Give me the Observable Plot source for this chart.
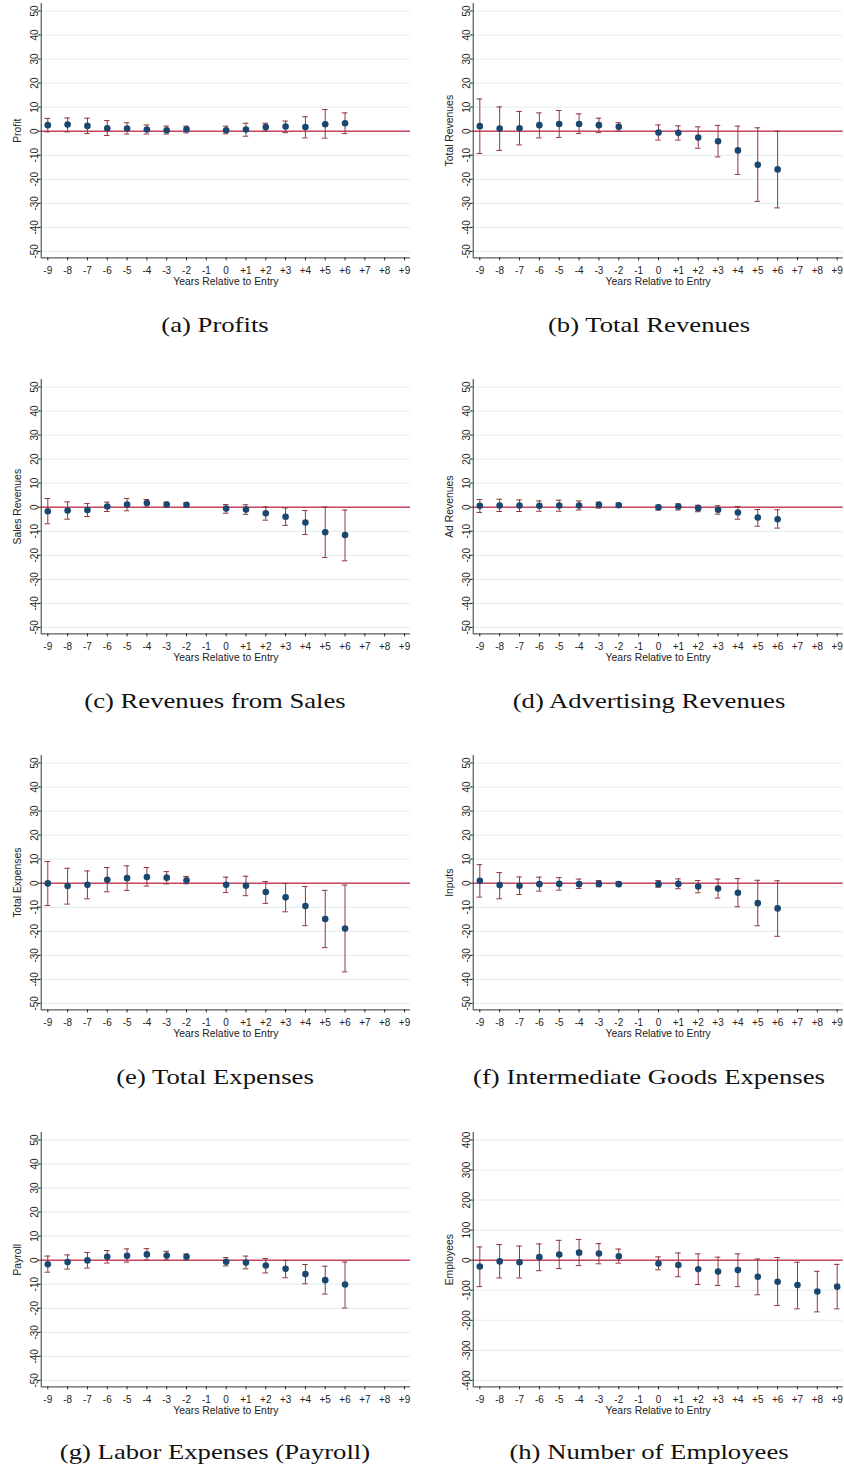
<!DOCTYPE html>
<html>
<head>
<meta charset="utf-8">
<script src="https://cdn.jsdelivr.net/npm/d3@7"></script>
<script src="https://cdn.jsdelivr.net/npm/@observablehq/plot@0.6"></script>
<style>
  html, body { margin: 0; padding: 0; background: #fff; }
  #page { position: relative; width: 844px; height: 1468px; overflow: hidden; background: #fff; }
  .panel { position: absolute; }
  .cap { position: absolute; width: 420px; text-align: center; font-family: "Liberation Serif", "Times New Roman", serif;
         font-size: 21px; line-height: 24px; color: #111; transform: scaleX(1.27); transform-origin: 50% 50%; white-space: nowrap; }
</style>
</head>
<body>
<div id="page"></div>
<script>
// ---- data ----
const years = [-9,-8,-7,-6,-5,-4,-3,-2,-1,0,1,2,3,4,5,6,7,8,9];
const yearLabels = ["-9","-8","-7","-6","-5","-4","-3","-2","-1","0","+1","+2","+3","+4","+5","+6","+7","+8","+9"];

const profitPt = [2.5,2.8,2.2,1.2,1.1,0.7,0.4,0.8,null,0.4,0.7,1.7,1.9,1.7,2.9,3.3];
const profitHi = [5.3,5.5,5.4,4.4,3.5,2.6,2.1,2.1,null,2.1,3.3,3.3,4.2,6.0,9.0,7.6];
const profitLo = [-0.3,-0.3,-1.0,-1.8,-1.2,-1.2,-1.2,-0.7,null,-1.1,-2.1,0.0,-0.6,-2.8,-2.9,-1.0];

const totRevPt = [2.1,1.1,1.2,2.5,3.0,3.0,2.5,1.8,null,-0.6,-0.7,-2.6,-4.2,-8.0,-14.0,-15.9];
const totRevHi = [13.4,10.1,8.2,7.6,8.6,7.2,5.4,3.5,null,2.6,2.2,1.8,2.4,2.1,1.4,0.0];
const totRevLo = [-9.3,-8.0,-5.7,-2.8,-2.6,-1.0,-0.6,0.0,null,-3.7,-3.7,-7.1,-10.7,-18.0,-29.2,-31.9];

const salesPt = [-1.7,-1.4,-1.2,0.3,1.1,1.7,1.1,1.0,null,-0.6,-1.0,-2.5,-4.0,-6.4,-10.4,-11.6];
const salesHi = [3.6,2.2,1.5,2.1,3.6,3.2,2.1,1.8,null,1.1,1.0,0.1,-0.3,-1.4,0.1,-1.2];
const salesLo = [-6.9,-5.0,-3.9,-1.8,-1.5,0.0,0.1,0.1,null,-2.5,-3.0,-5.4,-7.6,-11.4,-20.9,-22.3];

const adPt = [0.6,0.7,0.7,0.6,0.7,0.7,1.0,0.8,null,-0.1,0.3,-0.4,-1.1,-2.2,-4.3,-5.0];
const adHi = [3.2,3.3,3.0,2.6,2.9,2.6,2.1,1.7,null,0.8,1.4,0.8,0.6,0.3,-1.0,-1.1];
const adLo = [-2.2,-1.8,-1.8,-1.7,-1.7,-1.2,-0.4,-0.1,null,-1.2,-1.2,-1.9,-2.9,-5.0,-7.9,-8.7];

const totExpPt = [-0.1,-1.2,-0.7,1.4,2.1,2.6,2.3,1.2,null,-0.7,-1.1,-3.7,-5.9,-9.5,-14.9,-18.9];
const totExpHi = [9.0,6.2,5.1,6.5,7.2,6.5,4.8,2.8,null,2.5,2.9,0.7,-0.1,-1.4,-3.0,-0.8];
const totExpLo = [-9.3,-8.7,-6.5,-3.6,-3.0,-1.2,-0.3,-0.3,null,-3.9,-5.2,-8.4,-11.9,-17.7,-26.8,-36.9];

const inputsPt = [1.0,-0.8,-1.1,-0.4,-0.3,-0.4,-0.3,-0.4,null,-0.4,-0.3,-1.4,-2.2,-4.0,-8.3,-10.5];
const inputsHi = [7.7,4.4,2.6,2.5,2.3,1.7,1.1,0.6,null,1.1,1.8,1.1,1.7,1.9,1.2,1.0];
const inputsLo = [-5.8,-6.5,-4.7,-3.3,-2.9,-2.2,-1.5,-1.2,null,-1.7,-2.3,-4.0,-6.2,-9.8,-17.7,-22.1];

const payrollPt = [-1.7,-0.8,-0.1,1.4,1.8,2.4,1.9,1.4,null,-0.7,-1.0,-2.2,-3.6,-5.8,-8.3,-10.1];
const payrollHi = [1.7,2.2,3.2,4.0,4.7,4.8,3.7,2.6,null,1.1,1.7,0.7,-0.1,-1.8,-2.5,-0.8];
const payrollLo = [-5.0,-3.7,-3.3,-1.2,-0.8,0.1,0.1,0.0,null,-2.4,-3.6,-5.3,-7.3,-9.8,-14.1,-19.9];

const emplPt = [-21,-4,-7,10,19,25,22,13,null,-11,-16,-30,-38,-33,-55,-72,-83,-104,-88];
const emplHi = [44,52,47,54,66,69,55,37,null,11,24,21,10,21,4,9,-7,-37,-14];
const emplLo = [-88,-59,-59,-35,-28,-18,-12,-10,null,-32,-55,-81,-84,-88,-115,-151,-162,-172,-162];

const ticks50 = [-50,-40,-30,-20,-10,0,10,20,30,40,50];
const ticks400 = [-400,-300,-200,-100,0,100,200,300,400];

const captions = ["(a) Profits","(b) Total Revenues","(c) Revenues from Sales","(d) Advertising Revenues",
                  "(e) Total Expenses","(f) Intermediate Goods Expenses","(g) Labor Expenses (Payroll)","(h) Number of Employees"];
const yLabels = ["Profit","Total Revenues","Sales Revenues","Ad Revenues","Total Expenses","Inputs","Payroll","Employees"];

const series = [
  [profitPt, profitLo, profitHi], [totRevPt, totRevLo, totRevHi],
  [salesPt, salesLo, salesHi], [adPt, adLo, adHi],
  [totExpPt, totExpLo, totExpHi], [inputsPt, inputsLo, inputsHi],
  [payrollPt, payrollLo, payrollHi], [emplPt, emplLo, emplHi]
];

// ---- style ----
const NAVY = "#1a476f", MAROON = "#90353b", ZERO = "#c8475f", GRID = "#e2ecef", AXIS = "#333";
const rowTops = [3.3, 379.3, 755.3, 1131.9];
const capBase = [331.7, 708, 1084, 1458.6];
const frameH = 254.4, mTop = 4, mBottom = 36;
const xDomain = [-9.333, 9.303];

const page = document.getElementById("page");

series.forEach(([pt, lo, hi], i) => {
  const row = Math.floor(i / 2), col = i % 2;
  const isEmp = i === 7;
  const yTicks = isEmp ? ticks400 : ticks50;
  const yDomain = isEmp ? [-421.6, 424.8] : [-52.7, 53.1];
  const data = years.map((x, k) => ({x, pt: pt[k], lo: lo[k], hi: hi[k]}))
                    .filter(d => d.pt != null);
  const left = col === 0 ? 0 : 424;
  const mLeft = col === 0 ? 40.7 : 48.7;
  const mRight = col === 0 ? 10 : 1.3;

  const chart = Plot.plot({
    width: 420,
    height: mTop + frameH + mBottom,
    marginTop: mTop, marginBottom: mBottom, marginLeft: mLeft, marginRight: mRight,
    style: {fontFamily: "'Liberation Sans', Arial, sans-serif", fontSize: "10px", color: "#222", background: "white", overflow: "visible"},
    x: {type: "linear", domain: xDomain},
    y: {type: "linear", domain: yDomain},
    marks: [
      Plot.ruleY(yTicks, {stroke: GRID, strokeWidth: 1}),
      Plot.ruleY([0], {stroke: ZERO, strokeWidth: 1.5}),
      Plot.ruleX(data, {x: "x", y1: "lo", y2: "hi", stroke: MAROON, strokeWidth: 1}),
      Plot.ruleY(data, {y: "hi", x1: d => d.x - 0.14, x2: d => d.x + 0.14, stroke: MAROON, strokeWidth: 1}),
      Plot.ruleY(data, {y: "lo", x1: d => d.x - 0.14, x2: d => d.x + 0.14, stroke: MAROON, strokeWidth: 1}),
      Plot.dot(data, {x: "x", y: "pt", r: 3.3, fill: NAVY, stroke: null}),
      Plot.ruleX([xDomain[0]], {stroke: AXIS, strokeWidth: 1}),
      Plot.ruleY([yDomain[0]], {stroke: AXIS, strokeWidth: 1}),
      Plot.axisY({ticks: yTicks, tickSize: 3, tickRotate: -90, tickPadding: 0.5,
                  tickFormat: d => String(d), fontSize: 10, label: null}),
      Plot.axisX({ticks: years, tickSize: 3, tickPadding: 6,
                  tickFormat: d => yearLabels[years.indexOf(d)], fontSize: 10, label: null}),
      Plot.text([yLabels[i]], {frameAnchor: "left", dx: -20, rotate: -90, textAnchor: "middle",
                  lineAnchor: "bottom", fontSize: 10.4, fill: "#222"}),
      Plot.text(["Years Relative to Entry"], {frameAnchor: "bottom", dy: 27, textAnchor: "middle",
                  lineAnchor: "bottom", fontSize: 10.4, fill: "#222"})
    ]
  });
  const div = document.createElement("div");
  div.className = "panel";
  div.style.left = left + "px";
  div.style.top = (rowTops[row] - mTop) + "px";
  div.appendChild(chart);
  page.appendChild(div);

  const cap = document.createElement("div");
  cap.className = "cap";
  const cx = col === 0 ? 215 : 649;
  cap.style.left = (cx - 210) + "px";
  cap.style.top = (capBase[row] - 19.1) + "px";
  cap.textContent = captions[i];
  page.appendChild(cap);
});
</script>
</body>
</html>
